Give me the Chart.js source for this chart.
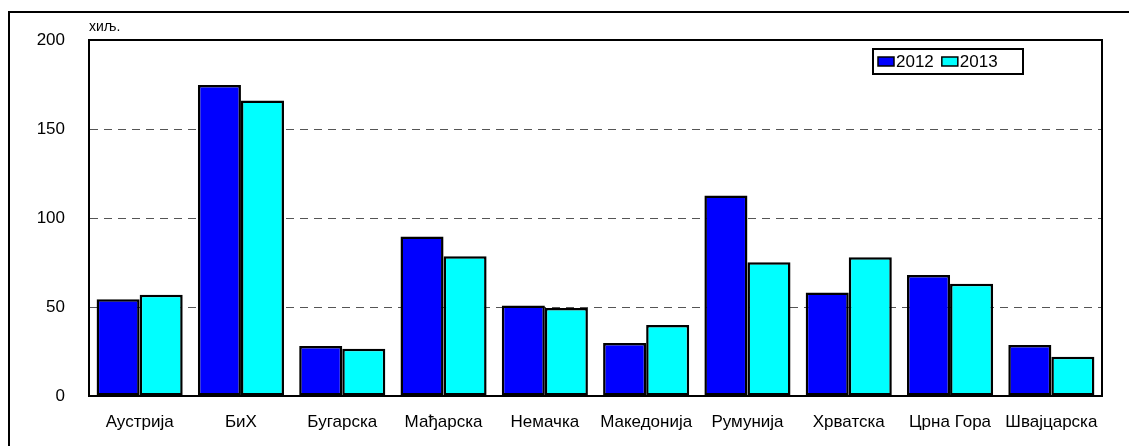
<!DOCTYPE html>
<html>
<head>
<meta charset="utf-8">
<script src="https://cdn.jsdelivr.net/npm/chart.js@4"></script>
<style>
  html, body { margin: 0; padding: 0; background: #fff; }
  #wrap { width: 1129px; height: 446px; }
</style>
</head>
<body>
<div id="wrap"><canvas id="tourChart" width="1129" height="446"></canvas></div>
<script>
// гости по земљама, хиљаде
const countries = ["Аустрија", "БиХ", "Бугарска", "Мађарска", "Немачка",
    "Македонија", "Румунија", "Хрватска", "Црна Гора", "Швајцарска"];
const values2012 = [54.4, 174.7, 28.1, 89.6, 50.8, 29.8, 112.6, 58.1, 68.0, 28.7];
const values2013 = [56.9, 166.0, 26.6, 78.5, 49.4, 39.9, 75.1, 77.9, 63.1, 22.1];
const seriesNames = ["2012", "2013"];
const yTicks = [0, 50, 100, 150, 200];

const fontName = "'Liberation Sans', Arial, sans-serif";

// outer frame, unit label, plot frame and boxed legend
const extras = {
    id: "extras",
    beforeDraw(chart) {
        const c = chart.ctx;
        c.save();
        c.fillStyle = "#fff";
        c.fillRect(0, 0, chart.width, chart.height);
        c.strokeStyle = "#000";
        c.lineWidth = 2;
        c.beginPath();
        c.moveTo(9, chart.height + 5);
        c.lineTo(9, 12);
        c.lineTo(chart.width + 5, 12);
        c.stroke();
        c.restore();
    },
    afterDraw(chart) {
        const c = chart.ctx;
        const a = chart.chartArea;
        c.save();
        c.strokeStyle = "#000";
        c.lineWidth = 2;
        c.beginPath();
        c.moveTo(a.left, a.top);
        c.lineTo(a.right, a.top);
        c.lineTo(a.right, a.bottom);
        c.stroke();

        c.fillStyle = "#000";
        c.font = "14px " + fontName;
        c.textBaseline = "middle";
        c.fillText("хиљ.", a.left, 27);

        // legend
        const lx = 873, ly = 49, lw = 150, lh = 25;
        c.fillStyle = "#fff";
        c.fillRect(lx, ly, lw, lh);
        c.strokeRect(lx, ly, lw, lh);
        c.font = "17px " + fontName;
        let x = lx + 5;
        chart.data.datasets.forEach(ds => {
            c.fillStyle = ds.backgroundColor;
            c.fillRect(x, ly + 8, 16, 9);
            c.lineWidth = 1.5;
            c.strokeRect(x, ly + 8, 16, 9);
            c.fillStyle = "#000";
            c.fillText(ds.label, x + 18, ly + lh / 2 + 1);
            x += 18 + c.measureText(ds.label).width + 8;
        });
        c.restore();
    }
};

new Chart(document.getElementById("tourChart"), {
    type: "bar",
    data: {
        labels: countries,
        datasets: [
            { label: seriesNames[0], data: values2012, backgroundColor: "#0000FF" },
            { label: seriesNames[1], data: values2013, backgroundColor: "#00FFFF" }
        ]
    },
    options: {
        responsive: false,
        animation: false,
        devicePixelRatio: 1,
        layout: { padding: { top: 40, right: 27, left: 0, bottom: 0 } },
        datasets: {
            bar: {
                borderColor: "#000",
                borderWidth: 2.5,
                borderSkipped: false,
                barPercentage: 1,
                categoryPercentage: 0.85
            }
        },
        plugins: {
            legend: { display: false },
            tooltip: { enabled: false }
        },
        scales: {
            x: {
                grid: { display: false, drawTicks: false },
                border: { display: true, color: "#000", width: 2 },
                ticks: {
                    color: "#000",
                    padding: 16,
                    maxRotation: 0,
                    font: { family: fontName, size: 17 }
                },
                afterFit(scale) { scale.height = 50; }
            },
            y: {
                min: 0,
                max: 200,
                afterBuildTicks(scale) { scale.ticks = yTicks.map(v => ({ value: v })); },
                grid: {
                    drawTicks: false,
                    color: ctx => (ctx.tick.value === 0 || ctx.tick.value === 200) ? "rgba(0,0,0,0)" : "#555",
                    lineWidth: 1
                },
                border: { display: true, color: "#000", width: 2, dash: [8, 6] },
                ticks: {
                    color: "#000",
                    padding: 24,
                    font: { family: fontName, size: 17 }
                },
                afterFit(scale) { scale.width = 89; }
            }
        }
    },
    plugins: [extras]
});
</script>
</body>
</html>
